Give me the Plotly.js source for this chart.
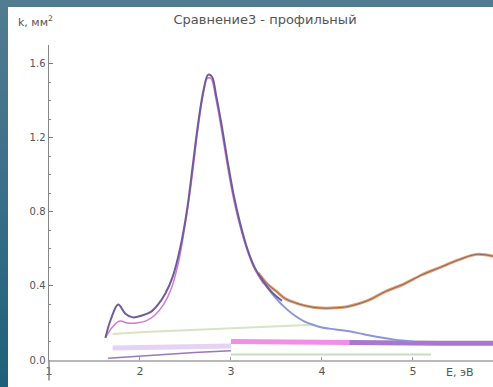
<!DOCTYPE html>
<html>
<head>
<meta charset="utf-8">
<script src="https://cdn.plot.ly/plotly-3.0.1.min.js"></script>
<style>
html,body{margin:0;padding:0;}
body{width:493px;height:387px;overflow:hidden;background:linear-gradient(180deg,#527c92 0%,#3a6f88 50%,#1d607a 100%);position:relative;}
#chart{position:absolute;left:8px;top:7px;width:485px;height:380px;}
</style>
</head>
<body>
<div id="chart"></div>
<script>
// Main measured curve (purple)
const mainX = [1.62,1.68,1.76,1.84,1.92,2.02,2.12,2.20,2.28,2.36,2.44,2.52,2.58,2.64,2.70,2.75,2.79,2.84,2.90,2.96,3.03,3.10,3.18,3.26,3.36,3.46,3.56];
const mainY = [0.12,0.22,0.30,0.25,0.23,0.24,0.26,0.30,0.36,0.45,0.60,0.82,1.05,1.28,1.46,1.54,1.53,1.42,1.26,1.08,0.89,0.74,0.60,0.50,0.42,0.36,0.32];
// Inner fitted curve (magenta)
const fitX = [1.62,1.70,1.78,1.86,1.96,2.06,2.16,2.26,2.34,2.42,2.50,2.57,2.63,2.69,2.74,2.78,2.83,2.89,2.95,3.02,3.10,3.18,3.26,3.36];
const fitY = [0.12,0.18,0.21,0.20,0.20,0.21,0.24,0.30,0.38,0.52,0.74,0.98,1.22,1.42,1.52,1.52,1.42,1.26,1.08,0.89,0.72,0.59,0.49,0.41];
// Blue decaying component
const blueX = [3.30,3.40,3.50,3.60,3.70,3.80,3.90,4.00,4.15,4.30,4.45,4.60,4.80,5.00];
const blueY = [0.46,0.39,0.33,0.28,0.24,0.21,0.19,0.175,0.165,0.155,0.14,0.125,0.11,0.10];
// Orange second band
const orangeX = [3.30,3.40,3.50,3.60,3.70,3.80,3.90,4.00,4.10,4.20,4.30,4.50,4.70,4.90,5.10,5.30,5.50,5.70,5.88];
const orangeY = [0.47,0.41,0.37,0.33,0.31,0.295,0.285,0.28,0.28,0.283,0.29,0.32,0.37,0.41,0.46,0.50,0.54,0.57,0.56];
// Light green baseline component
const greenX = [1.70,2.00,2.50,3.00,3.50,3.90];
const greenY = [0.14,0.15,0.16,0.17,0.18,0.19];
// Pink band and violet band
const pinkX = [3.00,3.40,3.80,4.30];
const pinkY = [0.10,0.10,0.095,0.095];
const violetX = [4.30,4.80,5.30,5.88];
const violetY = [0.095,0.09,0.09,0.09];
// Lavender low band
const lavX = [1.70,2.20,2.60,3.00];
const lavY = [0.065,0.07,0.07,0.075];
// Low purple line
const lowX = [1.65,1.80,2.00,2.30,2.60,3.00];
const lowY = [0.01,0.015,0.02,0.03,0.04,0.05];
// Pale green near axis
const pgX = [3.00,3.60,4.20,4.80,5.20];
const pgY = [0.03,0.03,0.03,0.03,0.03];

const traces = [
  {x: lavX, y: lavY, mode:'lines', line:{color:'#e6d2f2', width:5}},
  {x: pgX, y: pgY, mode:'lines', line:{color:'#c8dcc0', width:2}},
  {x: lowX, y: lowY, mode:'lines', line:{color:'#9a78b8', width:1.5}},
  {x: greenX, y: greenY, mode:'lines', line:{color:'#d8e4c4', width:2}},
  {x: pinkX, y: pinkY, mode:'lines', line:{color:'#f28ee6', width:5}},
  {x: violetX, y: violetY, mode:'lines', line:{color:'#a878d0', width:5}},
  {x: blueX, y: blueY, mode:'lines', line:{color:'#8c96d6', width:2, shape:'spline'}},
  {x: orangeX, y: orangeY, mode:'lines', line:{color:'#e0a070', width:3, shape:'spline'}},
  {x: orangeX, y: orangeY, mode:'lines', line:{color:'#8a6468', width:1, shape:'spline'}},
  {x: fitX, y: fitY, mode:'lines', line:{color:'#d27ad0', width:1.5, shape:'spline'}},
  {x: mainX, y: mainY, mode:'lines', line:{color:'#6e5c98', width:2, shape:'spline'}}
];

const layout = {
  width:485, height:380,
  margin:{l:41, r:0, t:38, b:27},
  paper_bgcolor:'#ffffff', plot_bgcolor:'#ffffff',
  showlegend:false,
  font:{family:'DejaVu Sans', color:'#555555', size:11},
  title:{text:'Сравнение3 - профильный', x:0.53, xanchor:'center', y:0.968, yanchor:'middle', font:{size:13, color:'#555555'}},
  xaxis:{range:[1,5.88], tickvals:[1,2,3,4,5], ticktext:['1','2','3','4','5'], ticks:'inside', ticklen:3, tickcolor:'#999',
         showgrid:false, zeroline:false, showline:true, linecolor:'#b8b8b8', linewidth:2, tickfont:{size:11, color:'#555'}},
  yaxis:{range:[0,1.70], tickvals:[0,0.4,0.8,1.2,1.6], ticktext:['0.0','0.4','0.8','1.2','1.6'], ticks:'inside', ticklen:4, tickcolor:'#777',
         minor:{dtick:0.1, ticks:'inside', ticklen:2, tickcolor:'#888'},
         showgrid:false, zeroline:false, showline:true, linecolor:'#888', linewidth:1.5, tickfont:{size:10, color:'#555'}},
  shapes:[{type:'line', xref:'paper', yref:'paper', x0:0, x1:0, y0:-0.065, y1:0, line:{color:'#888', width:1.5}}],
  annotations:[
    {text:'k, мм<sup>2</sup>', xref:'paper', yref:'paper', x:-0.075, y:1.075, xanchor:'left', yanchor:'middle', showarrow:false, font:{size:11, color:'#555'}},
    {text:'E, эВ', xref:'x', yref:'paper', x:5.52, y:-0.04, xanchor:'center', yanchor:'middle', showarrow:false, font:{size:11, color:'#555'}}
  ]
};
Plotly.newPlot('chart', traces, layout, {displayModeBar:false, staticPlot:true});
</script>
</body>
</html>
